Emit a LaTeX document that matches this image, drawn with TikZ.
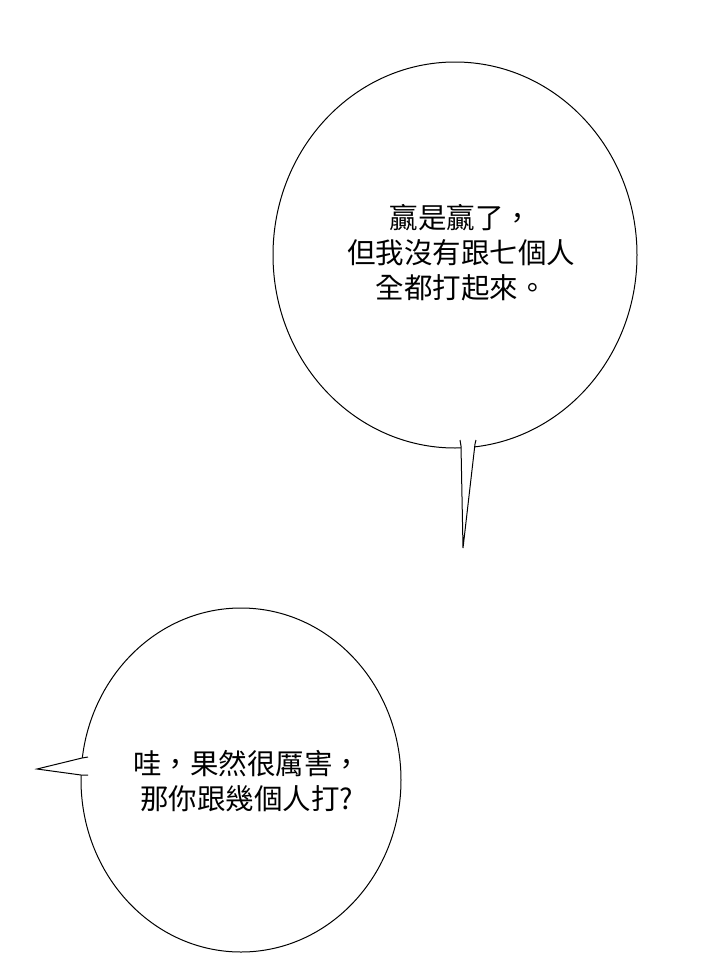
\documentclass[tikz,border=0pt]{standalone}
\usepackage{fontspec}
\newfontfamily\cjk{Noto Sans CJK TC}
\tikzset{
  bubble/.style={draw=black, line width=1pt, fill=white},
  words/.style={font=\cjk\fontsize{28.5}{35}\selectfont, align=center, text=black}
}
\begin{document}
\begin{tikzpicture}[x=1pt, y=-1pt]
  \useasboundingbox[fill=white] (0,0) rectangle (720,969);
  % upper bubble
  \draw[bubble] (455,255) ellipse [x radius=182, y radius=193];
  \coordinate (tipA) at (463,548);
  \filldraw[bubble] (460,440) -- (461,446) -- (tipA) -- (475,444) -- (476,440);
  \node[words] (win) at (461,253) {贏是贏了，\\但我沒有跟七個人\\全都打起來。};
  % lower bubble
  \draw[bubble] (241,780) ellipse [x radius=160, y radius=172];
  \coordinate (tipB) at (37,769);
  \filldraw[bubble] (88,757) -- (82,758) -- (tipB) -- (81,775) -- (88,775);
  \node[words] (wow) at (247,781) {哇，果然很厲害，\\那你跟幾個人打?};
\end{tikzpicture}
\end{document}
